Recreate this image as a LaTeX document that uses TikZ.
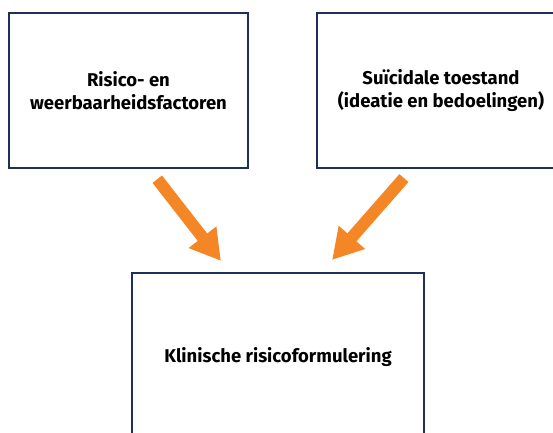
\documentclass[tikz,border=0pt]{standalone}
\usepackage{fontspec}
\setmainfont{Fira Sans}
\usetikzlibrary{arrows.meta}
\definecolor{navy}{RGB}{31,47,92}
\definecolor{oranje}{RGB}{245,134,38}
\tikzset{
  kader/.style={draw=navy, line width=2.5pt, minimum width=239pt, minimum height=155pt,
    align=center, font=\bfseries\fontsize{18.5}{23.5}\selectfont},
  pijl/.style={draw=oranje, line width=12pt, -{Triangle[length=30pt 0 0,width=33pt 0 0]}}
}
\begin{document}
\begin{tikzpicture}[x=1pt,y=-1pt]
  \useasboundingbox (0,0) rectangle (553,432);
  \clip (0,0) rectangle (553,432);
  \node[kader] (risico) at (128.5,90.5) {Risico- en\\weerbaarheidsfactoren};
  \node[kader, minimum width=248pt] (toestand) at (441,90.5) {Suïcidale toestand\\(ideatie en bedoelingen)};
  \node[kader, minimum width=292pt, minimum height=168pt] (formulering) at (278,357) {Klinische risicoformulering};
  \draw[pijl, shorten <=12.6pt, shorten >=13.8pt] ([xshift=21pt]risico.south) -- ([xshift=-48.6pt]formulering.north);
  \draw[pijl, shorten <=11.8pt, shorten >=15.8pt] ([xshift=-29.3pt]toestand.south) -- ([xshift=43.7pt]formulering.north);
\end{tikzpicture}
\end{document}
